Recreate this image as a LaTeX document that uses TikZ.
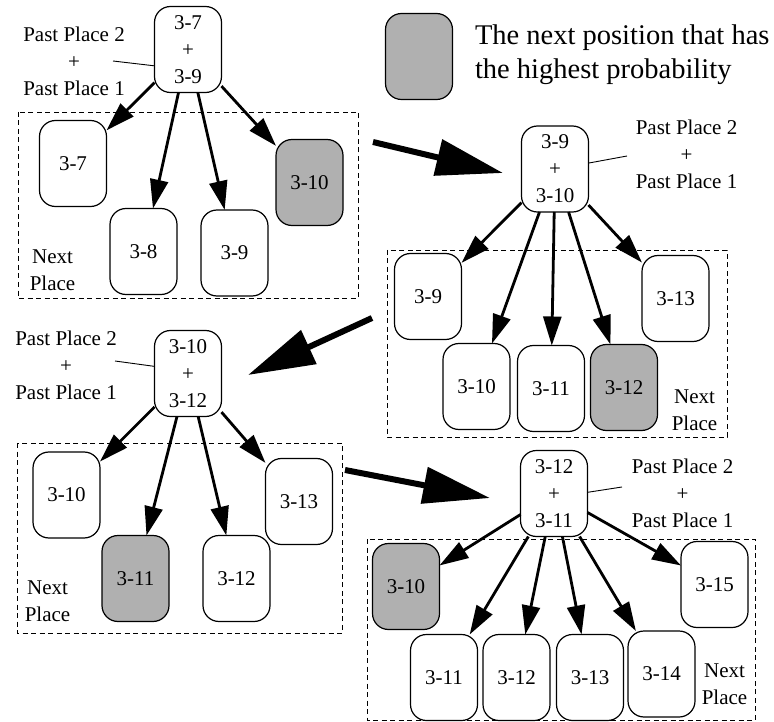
\documentclass[tikz,border=0pt]{standalone}
\usepackage{fontspec}
\setmainfont{Liberation Serif}
\usetikzlibrary{arrows.meta}
\definecolor{bestgray}{gray}{0.69}
\begin{document}
\begin{tikzpicture}[x=1pt,y=-1pt,inner sep=0pt,outer sep=0pt,
font=\fontsize{21}{27}\selectfont,
place/.style={draw,rectangle,rounded corners=16pt,minimum width=67pt,minimum height=86pt,line width=1.2pt,align=center},
best/.style={place,fill=bestgray},
frame/.style={draw,line width=0.9pt,dash pattern=on 5pt off 3.5pt},
edge/.style={line width=2.8pt,-{Triangle[length=29pt,width=18pt]}},
stepedge/.style={line width=6pt,-{Triangle[length=67pt,width=36pt]}},
pointer/.style={line width=0.9pt},
note/.style={align=center}]
\useasboundingbox (0,0) rectangle (774,722);
% legend
\draw (419,56.5) node[best] (key) {};
\draw (475,55) node[anchor=west,align=left,font=\fontsize{28.5}{34}\selectfont] (keytext) {The next position that has\\the highest probability};
% step 1
\draw[frame] (18,112) rectangle (358,298);
\draw (188,49.5) node[place] (root1) {3-7\\+\\3-9};
\draw (74,61) node[note] (lab1) {Past Place 2\\+\\Past Place 1};
\draw (52.5,270) node[note] (next1) {Next\\Place};
\draw (73,163.5) node[place] (a7) {3-7};
\draw (143.5,251.5) node[place] (a8) {3-8};
\draw (234.5,253) node[place] (a9) {3-9};
\draw (309.5,182.5) node[best] (a10) {3-10};
\coordinate (p1) at (113,61);
\draw[pointer] (p1) -- (root1.206);
\foreach \n in {a7,a8,a9,a10} \draw[edge] (root1) -- (\n);
% step 2
\draw[frame] (387,250) rectangle (727,437);
\draw (555,169) node[place] (root2) {3-9\\+\\3-10};
\draw (686.5,154.5) node[note] (lab2) {Past Place 2\\+\\Past Place 1};
\draw (694.5,410) node[note] (next2) {Next\\Place};
\draw (428,296.5) node[place] (b9) {3-9};
\draw (476.5,386.5) node[place] (b10) {3-10};
\draw (551,388.5) node[place] (b11) {3-11};
\draw (624,387.5) node[best] (b12) {3-12};
\draw (675.5,298.5) node[place] (b13) {3-13};
\coordinate (p2) at (627,156);
\draw[pointer] (root2.10) -- (p2);
\foreach \n in {b9,b10,b11,b12,b13} \draw[edge] (root2) -- (\n);
% step 3
\draw[frame] (17,443) rectangle (342,633);
\draw (188,373.5) node[place] (root3) {3-10\\+\\3-12};
\draw (66,365) node[note] (lab3) {Past Place 2\\+\\Past Place 1};
\draw (47.5,601.5) node[note] (next3) {Next\\Place};
\draw (66.5,495) node[place] (c10) {3-10};
\draw (135.5,578.5) node[best] (c11) {3-11};
\draw (236.5,578.5) node[place] (c12) {3-12};
\draw (299,501.5) node[place] (c13) {3-13};
\coordinate (p3) at (115,361);
\draw[pointer] (p3) -- (root3.168);
\foreach \n in {c10,c11,c12,c13} \draw[edge] (root3) -- (\n);
% step 4
\draw[frame] (367,539) rectangle (755,720);
\draw (554,493.5) node[place] (root4) {3-12\\+\\3-11};
\draw (682.5,493.5) node[note] (lab4) {Past Place 2\\+\\Past Place 1};
\draw (724.5,684) node[note] (next4) {Next\\Place};
\draw (406,586.5) node[best] (d10) {3-10};
\draw (444,677.5) node[place] (d11) {3-11};
\draw (516.5,677.5) node[place] (d12) {3-12};
\draw (590,677.5) node[place] (d13) {3-13};
\draw (661.5,674) node[place] (d14) {3-14};
\draw (714.5,584.5) node[place] (d15) {3-15};
\coordinate (p4) at (622,487);
\draw[pointer] (root4.2) -- (p4);
\foreach \n in {d10,d11,d12,d13,d14,d15} \draw[edge] (root4) -- (\n);
% moves between steps
\coordinate (s1) at (373,142);
\coordinate (t1) at (503,173);
\coordinate (s2) at (372,318);
\coordinate (t2) at (248,375);
\coordinate (s3) at (345,470);
\coordinate (t3) at (490,498);
\draw[stepedge] (s1) -- (t1);
\draw[stepedge] (s2) -- (t2);
\draw[stepedge] (s3) -- (t3);
\end{tikzpicture}
\end{document}
